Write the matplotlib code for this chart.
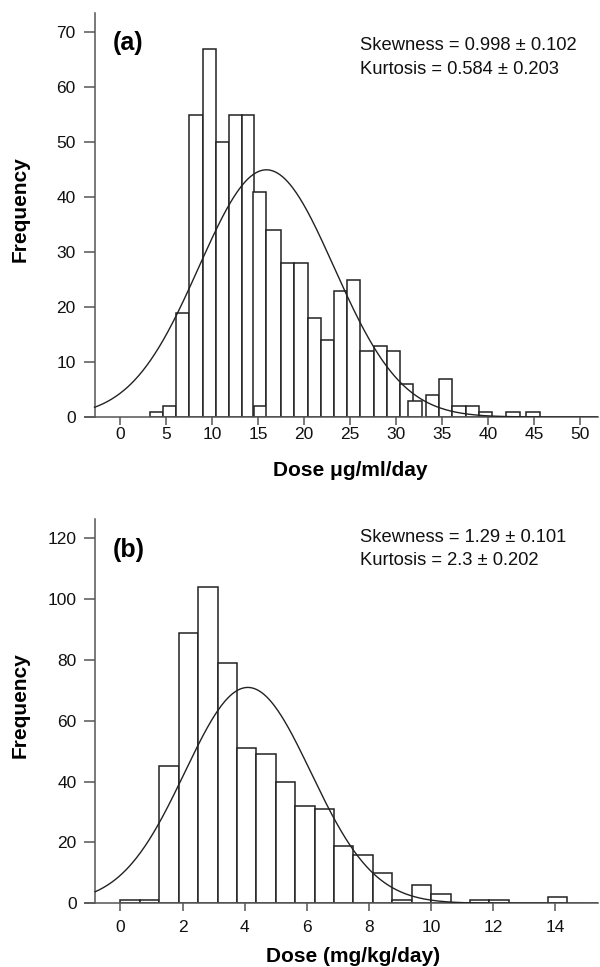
import numpy as np
import matplotlib
matplotlib.use("Agg")
import matplotlib.pyplot as plt

plt.rcParams['font.family'] = ['Liberation Sans', 'DejaVu Sans']

# ---------------- data: panel (a) ----------------
bin_lo_a = [3.2, 4.7, 6.05, 7.5, 8.95, 10.4, 11.8, 13.2, 14.45, 14.6, 15.9, 17.54, 18.95,
            20.4, 21.8, 23.2, 24.65, 26.1, 27.56, 29.0, 30.4, 31.3, 33.3, 34.7, 36.1,
            37.6, 39.0, 42.0, 44.2]
bin_hi_a = [4.7, 6.05, 7.5, 8.95, 10.4, 11.8, 13.2, 14.6, 15.9, 16.0, 17.54, 18.95, 20.4,
            21.8, 23.2, 24.65, 26.1, 27.56, 29.0, 30.4, 31.8, 32.8, 34.7, 36.1, 37.6,
            39.0, 40.4, 43.5, 45.7]
count_a = [1, 2, 19, 55, 67, 50, 55, 55, 41, 2, 34, 28, 28,
           18, 14, 23, 25, 12, 13, 12, 6, 3, 4, 7, 2,
           2, 1, 1, 1]
xticks_a = [0, 5, 10, 15, 20, 25, 30, 35, 40, 45, 50]
yticks_a = [0, 10, 20, 30, 40, 50, 60, 70]
mean_a, sd_a, peak_a = 15.9, 7.35, 45.0
stats_a = ["Skewness = 0.998 \u00b1 0.102", "Kurtosis = 0.584 \u00b1 0.203"]

# ---------------- data: panel (b) ----------------
bin_width_b = 0.625
count_b = [1, 1, 45, 89, 104, 79, 51, 49, 40, 32, 31, 19, 16, 10, 1, 6, 3, 0, 1, 1, 0, 0, 2]
bin_lo_b = [k * bin_width_b for k in range(len(count_b))]
xticks_b = [0, 2, 4, 6, 8, 10, 12, 14]
yticks_b = [0, 20, 40, 60, 80, 100, 120]
mean_b, sd_b, peak_b = 4.1, 2.03, 71.0
stats_b = ["Skewness = 1.29 \u00b1 0.101", "Kurtosis = 2.3 \u00b1 0.202"]

W, H = 600, 967
fig = plt.figure(figsize=(W / 100, H / 100), dpi=100)

BAR = '#222222'
AX = '#555555'


def px_rect(l, r, b, t):
    return [l / W, 1 - b / H, (r - l) / W, (b - t) / H]


def style(ax, ystart, xlim, ylim, xticks, yticks, xpad):
    ax.set_xlim(*xlim)
    ax.set_ylim(*ylim)
    for s in ['top', 'right']:
        ax.spines[s].set_visible(False)
    ax.spines['left'].set_position(('data', ystart))
    for s in ['left', 'bottom']:
        ax.spines[s].set_color(AX)
        ax.spines[s].set_linewidth(1.1)
    ax.set_xticks(xticks)
    ax.set_yticks(yticks)
    ax.tick_params(axis='y', direction='out', length=8, width=1.1, color=AX,
                   labelsize=12.5, pad=5.5, labelcolor='#111111')
    ax.tick_params(axis='x', direction='out', length=5.5, width=1.1, color=AX,
                   labelsize=12.5, pad=xpad, labelcolor='#111111')


# ---------------- panel (a) ----------------
axa = fig.add_axes(px_rect(85, 598, 417, 12.7))
for lo, hi, c in zip(bin_lo_a, bin_hi_a, count_a):
    axa.bar(lo, c, width=hi - lo, align='edge', facecolor='white',
            edgecolor=BAR, linewidth=1.1, zorder=2)
xa = np.linspace(-2.8, 52, 600)
axa.plot(xa, peak_a * np.exp(-(xa - mean_a) ** 2 / (2 * sd_a ** 2)),
         color=BAR, linewidth=1.0, zorder=3)
style(axa, -2.8, (-3.84, 51.98), (0, 73.6), xticks_a, yticks_a, 1.5)

# ---------------- panel (b) ----------------
axb = fig.add_axes(px_rect(85, 598, 903.3, 519.3))
axb.bar(bin_lo_b, count_b, width=bin_width_b, align='edge', facecolor='white',
        edgecolor=BAR, linewidth=1.1, zorder=2)
xb = np.linspace(-0.81, 15.4, 600)
axb.plot(xb, peak_b * np.exp(-(xb - mean_b) ** 2 / (2 * sd_b ** 2)),
         color=BAR, linewidth=1.0, zorder=3)
style(axb, -0.81, (-1.14, 15.37), (0, 126.3), xticks_b, yticks_b, 6.5)

# ---------------- texts ----------------
def ftext(x, y, s, **kw):
    fig.text(x / W, 1 - y / H, s, **kw)

ftext(113, 43, "(a)", fontsize=18, fontweight='bold', ha='left', va='center')
ftext(113, 550, "(b)", fontsize=18, fontweight='bold', ha='left', va='center')
for i, s in enumerate(stats_a):
    ftext(360, 50 + 23.5 * i, s, fontsize=13.2, ha='left', va='baseline', color='#111111')
for i, s in enumerate(stats_b):
    ftext(360, 542 + 23 * i, s, fontsize=13.2, ha='left', va='baseline', color='#111111')

ftext(20, 209, "Frequency", fontsize=15, fontweight='bold', rotation=90, ha='center', va='center')
ftext(20, 705, "Frequency", fontsize=15, fontweight='bold', rotation=90, ha='center', va='center')
ftext(350, 471, "Dose \u03bcg/ml/day", fontsize=15, fontweight='bold', ha='center', va='center')
ftext(353, 956, "Dose (mg/kg/day)", fontsize=15, fontweight='bold', ha='center', va='center')

fig.savefig("out.png", dpi=100)
